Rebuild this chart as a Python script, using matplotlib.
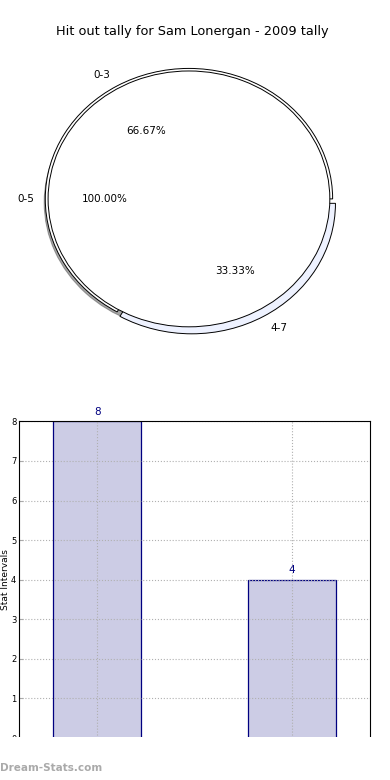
import matplotlib
matplotlib.use("Agg")
import matplotlib.pyplot as plt
from matplotlib.patches import Rectangle

title = "Hit out tally for Sam Lonergan - 2009 tally"

inner_labels = ["0-5"]
inner_values = [12]

outer_labels = ["0-3", "4-7"]
outer_values = [8, 4]

bar_values = [8, 4]
bar_labels = ["8", "4"]
y_ticks = [0, 1, 2, 3, 4, 5, 6, 7, 8]

fig = plt.figure(figsize=(3.9, 7.8), dpi=100)

# pie part
ax1 = fig.add_axes([0.033, 0.540, 0.903, 0.410])
ax1.pie(outer_values, labels=outer_labels, autopct="%.2f%%", radius=1.02,
        explode=[0, 0.04], colors=["white", "#eef2ff"],
        wedgeprops=dict(edgecolor="black", linewidth=0.7),
        textprops=dict(fontsize=7.5))
ax1.pie(inner_values, labels=inner_labels, autopct="%.2f%%", shadow=True,
        colors=["white"], wedgeprops=dict(edgecolor="black", linewidth=0.7),
        textprops=dict(fontsize=7.5))
ax1.set_aspect("auto")
ax1.set_xlim(-1.25, 1.25)
ax1.set_ylim(-1.25, 1.25)
ax1.set_title(title, fontsize=9.3, pad=3, x=0.51)

# bar part
ax2 = fig.add_axes([0.049, 0.0538, 0.9, 0.406])
x = range(len(bar_values))
ax2.bar(x, bar_values, width=0.45, color="#ccccE5", edgecolor="navy",
        linewidth=0.9, zorder=0.3)
for i, v in enumerate(bar_values):
    ax2.text(i, v + 0.12, bar_labels[i], ha="center", va="bottom",
             color="navy", fontsize=7.5)
ax2.set_xlim(-0.4, 1.4)
ax2.set_ylim(0, 8)
ax2.set_xticks(list(x))
ax2.set_xticklabels([])
ax2.set_yticks(y_ticks)
ax2.tick_params(axis="y", labelsize=6, length=3, pad=2, direction="in",
                color="#aaaaaa")
ax2.tick_params(axis="x", length=0)
ax2.set_axisbelow(True)
ax2.grid(True, linestyle=":", color="#b0b0b0", linewidth=0.8)
ax2.spines["bottom"].set_visible(False)
ax2.set_ylabel("Stat Intervals", fontsize=6.5)
ax2.yaxis.set_label_coords(-0.026, 0.5)

# bottom strip cuts the chart
fig.patches.append(Rectangle((0, 0), 1, 0.0545, transform=fig.transFigure,
                             facecolor="white", edgecolor="none", zorder=10))
fig.text(0.0, 0.012, "Dream-Stats.com", fontsize=7.5, color="#aaaaaa",
         fontweight="bold", zorder=11)

fig.savefig("out.png", dpi=100)
